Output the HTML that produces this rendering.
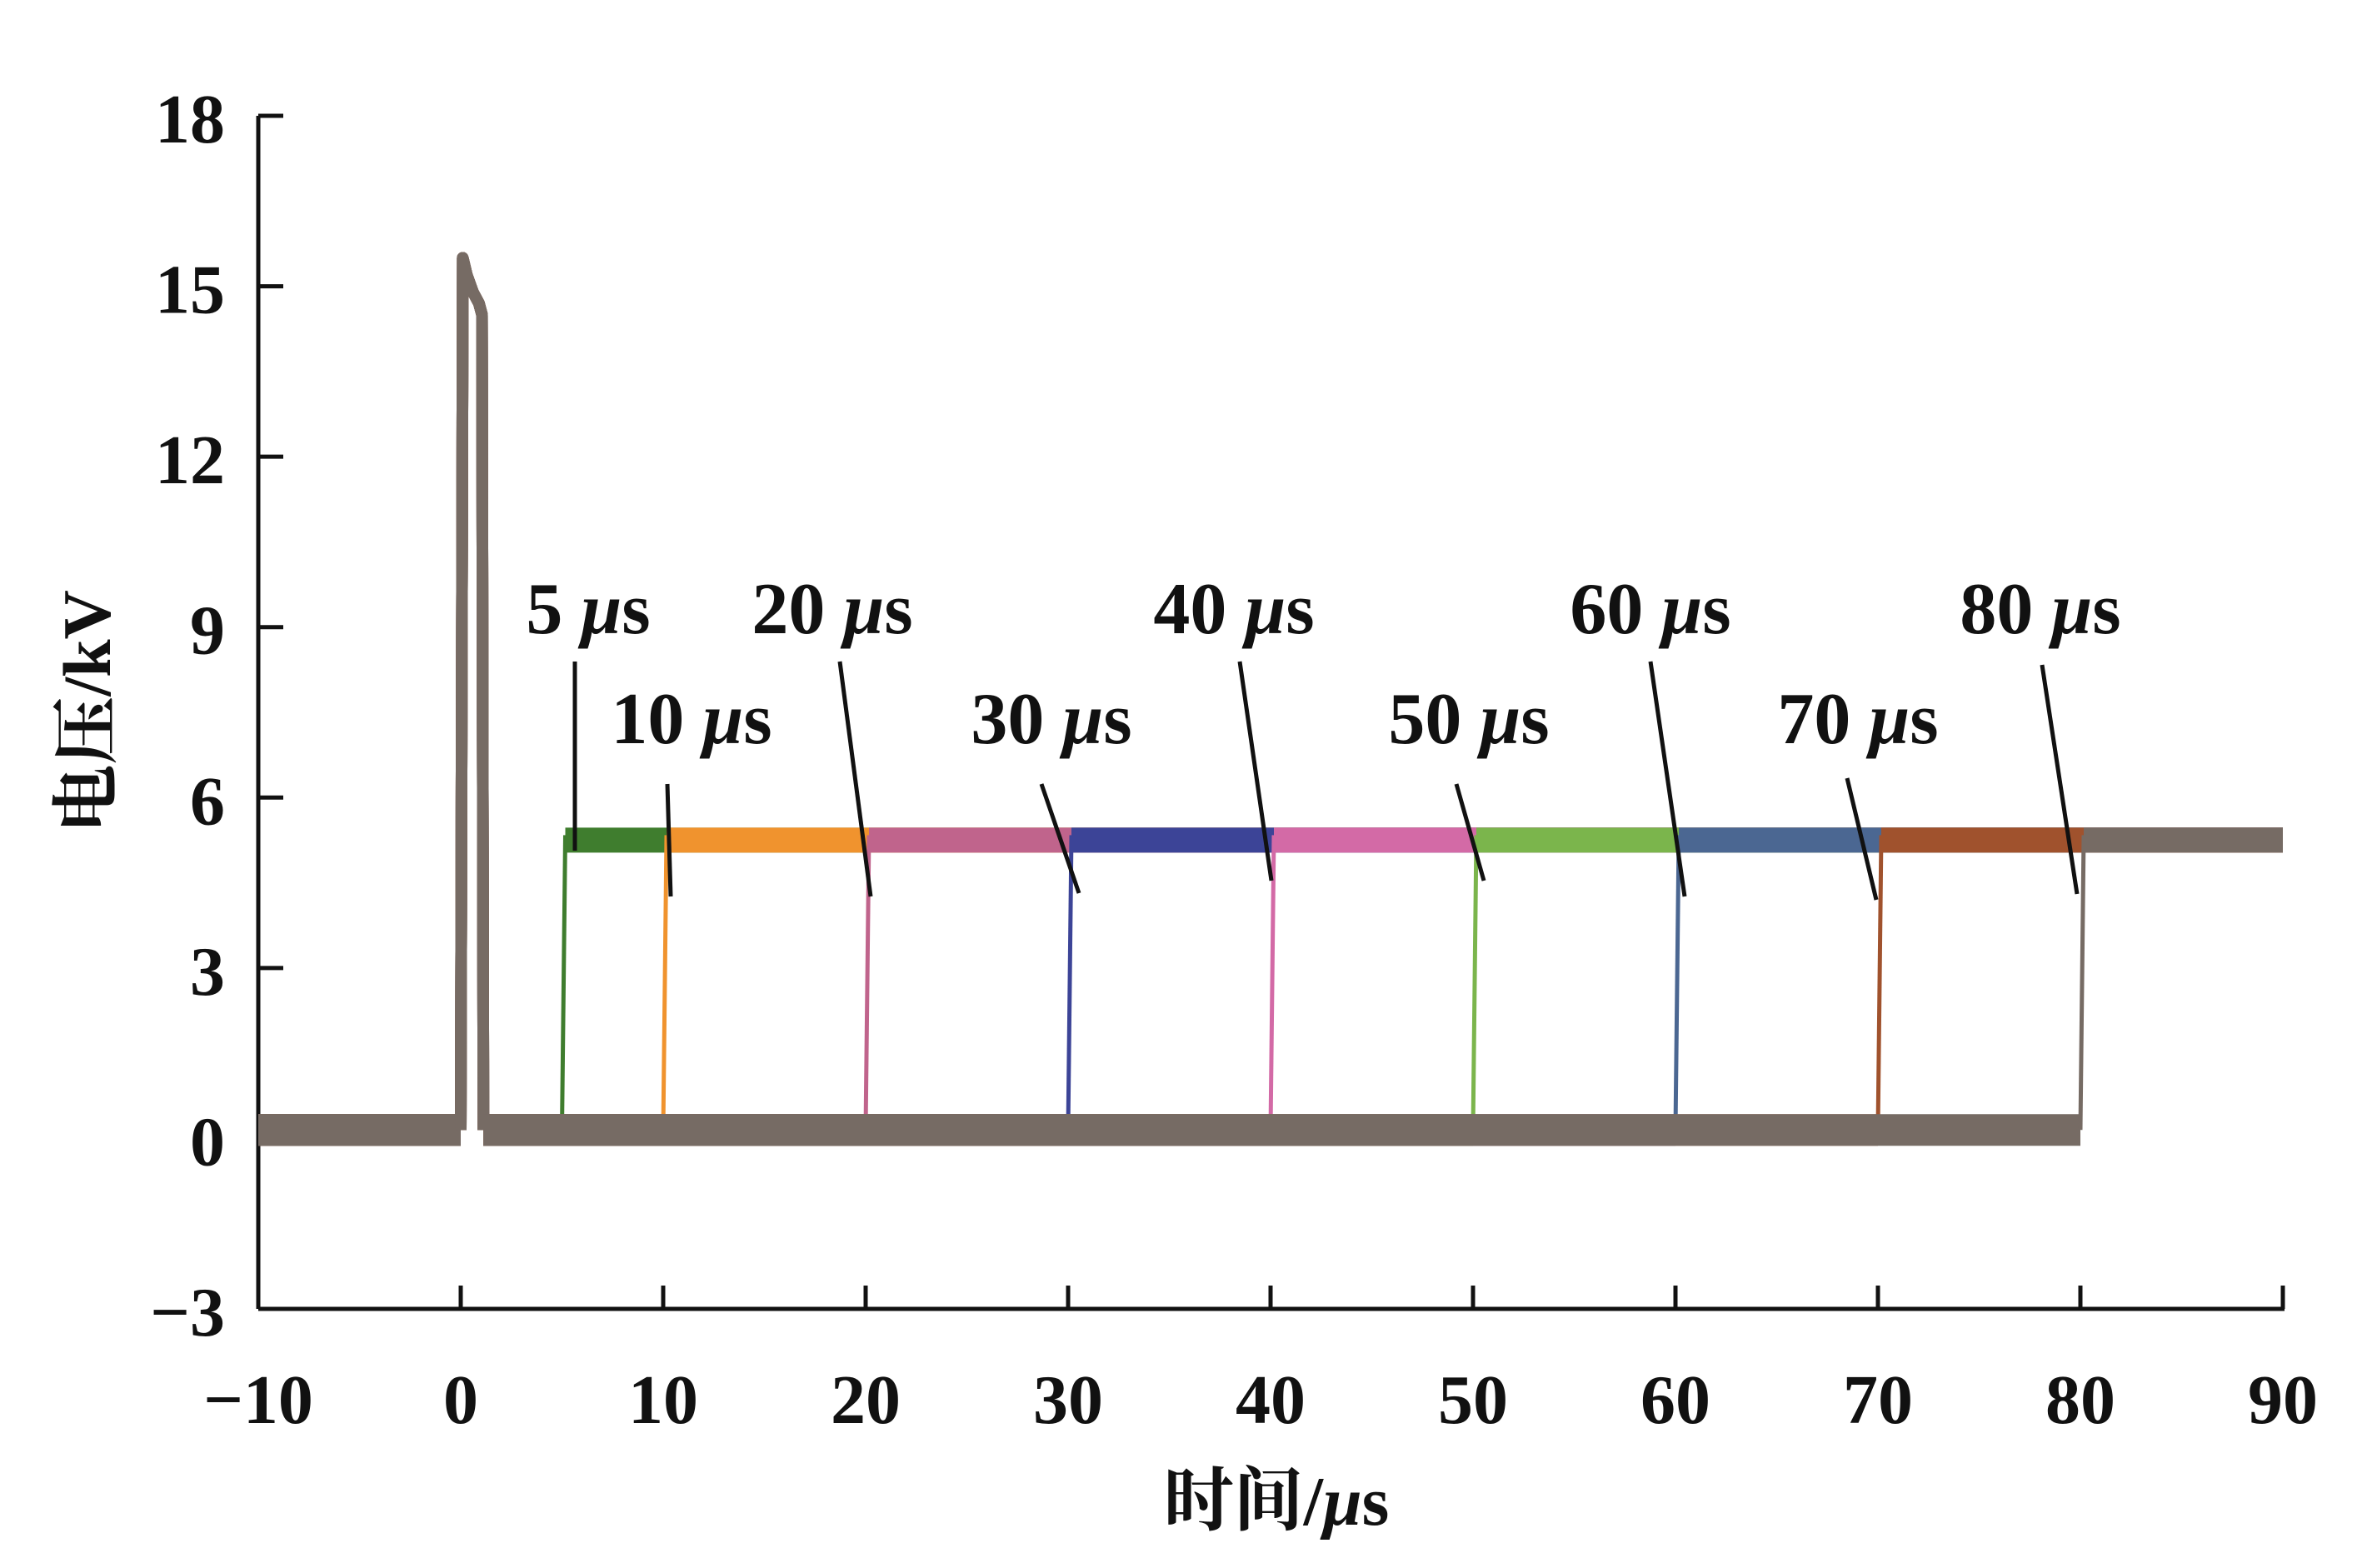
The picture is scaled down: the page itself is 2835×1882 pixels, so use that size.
<!DOCTYPE html>
<html><head><meta charset="utf-8"><style>
html,body{margin:0;padding:0;background:#fff;}
svg{display:block;}
text{font-family:"Liberation Serif","Noto Serif CJK SC",serif;font-weight:bold;fill:#111;}
</style></head><body>
<svg id="chart" width="2835" height="1882" viewBox="0 0 2835 1882" xmlns="http://www.w3.org/2000/svg">
<g id="axes"></g>
<g id="series"></g>
<g id="annot"></g>
<text transform="translate(132,854) rotate(-90)" text-anchor="middle" font-size="82" style="font-family:'Liberation Serif','Noto Serif CJK SC',serif">电压/kV</text>
<text x="1532" y="1830" text-anchor="middle" font-size="84" style="font-family:'Liberation Serif','Noto Serif CJK SC',serif">时间/<tspan font-style="italic">μ</tspan>s</text>
</svg>
<script>
const xTicks=[-10,0,10,20,30,40,50,60,70,80,90];
const yTicks=[-3,0,3,6,9,12,15,18];
const delays=[5,10,20,30,40,50,60,70,80];
const colors=['#3f7d2e','#f0932e','#c0648c','#3c4497','#d36aa6','#7bb54c','#4b6792','#a0522d','#766b64'];
const baseV=[0.15];
const plateauV=[5.25];
const peakT=[0,0.1,0.3,0.6,0.9,1.05,1.12];
const peakV=[0.15,15.5,15.2,14.9,14.7,14.5,0.15];
const xMin=-10,xMax=90,yMin=-3,yMax=18;
const X0=310,X1=2740,Y0=1571,Y1=139;
const sx=v=>X0+(v-xMin)/(xMax-xMin)*(X1-X0);
const sy=v=>Y0-(v-yMin)/(yMax-yMin)*(Y0-Y1);
const NS='http://www.w3.org/2000/svg';
function mk(tag,attrs,parent){const e=document.createElementNS(NS,tag);for(const k in attrs)e.setAttribute(k,attrs[k]);parent.appendChild(e);return e;}
const axes=document.getElementById('axes');
let a=mk('line',{x1:X0,y1:Y1,x2:X0,y2:Y0,stroke:'#111','stroke-width':5},axes);


a=mk('line',{x1:X0,y1:Y0,x2:X1+2,y2:Y0,stroke:'#111','stroke-width':5},axes);


yTicks.forEach(v=>{
 const t=mk('line',{x1:X0,y1:sy(v),x2:X0+30,y2:sy(v),stroke:'#111','stroke-width':5},axes);
 
 
 const l=mk('text',{x:270,y:sy(v)+32,'text-anchor':'end','font-size':84},axes);
 l.textContent=v<0?'\u2212'+Math.abs(v):String(v);
 
 
});
xTicks.forEach(v=>{
 const t=mk('line',{x1:sx(v),y1:Y0,x2:sx(v),y2:Y0-28,stroke:'#111','stroke-width':5},axes);
 
 
 const l=mk('text',{x:sx(v),y:1708,'text-anchor':'middle','font-size':84},axes);
 l.textContent=v<0?'\u2212'+Math.abs(v):String(v);
 
 
});
const series=document.getElementById('series');
delays.forEach((d,i)=>{
 const g=mk('g',{},series);
 
 
 const c=colors[i];
 let s=mk('line',{x1:sx(xMin),y1:sy(baseV[0]),x2:sx(peakT[0]),y2:sy(baseV[0]),stroke:c,'stroke-width':38},g);
 
 
 const pts=peakT.map((t,k)=>sx(t)+','+sy(peakV[k])).join(' ');
 s=mk('polyline',{points:pts,fill:'none',stroke:c,'stroke-width':14,'stroke-linejoin':'round'},g);
 
 
 s=mk('line',{x1:sx(peakT[peakT.length-1]),y1:sy(baseV[0]),x2:sx(d),y2:sy(baseV[0]),stroke:c,'stroke-width':38},g);
 
 
 s=mk('line',{x1:sx(d),y1:sy(baseV[0]),x2:sx(d)+4,y2:sy(plateauV[0])-6,stroke:c,'stroke-width':5},g);
 
 
 s=mk('line',{x1:sx(d)+4,y1:sy(plateauV[0]),x2:sx(xMax),y2:sy(plateauV[0]),stroke:c,'stroke-width':30},g);
 
 
});
const labelX=[706,830,999,1262,1481,1763,1981,2230,2449];
const annot=document.getElementById('annot');
const lead=[[690,794,690,1021],[801,941,805,1076],[1008,794,1045,1076],[1250,941,1295,1072],[1488,794,1526,1057],[1748,941,1781,1057],[1981,794,2022,1076],[2217,934,2252,1080],[2451,798,2493,1073]];
delays.forEach((d,i)=>{
 const by=(i%2===0)?760:892;
 const t=mk('text',{x:labelX[i],y:by,'text-anchor':'middle','font-size':88},annot);
 
 
 t.appendChild(document.createTextNode(d+' '));
 const ts=mk('tspan',{'font-style':'italic'},t);ts.textContent='μ';
 t.appendChild(document.createTextNode('s'));
 const L=lead[i];
 const ln=mk('line',{x1:L[0],y1:L[1],x2:L[2],y2:L[3],stroke:'#111','stroke-width':5},annot);
 
 
});
</script>
</body></html>
